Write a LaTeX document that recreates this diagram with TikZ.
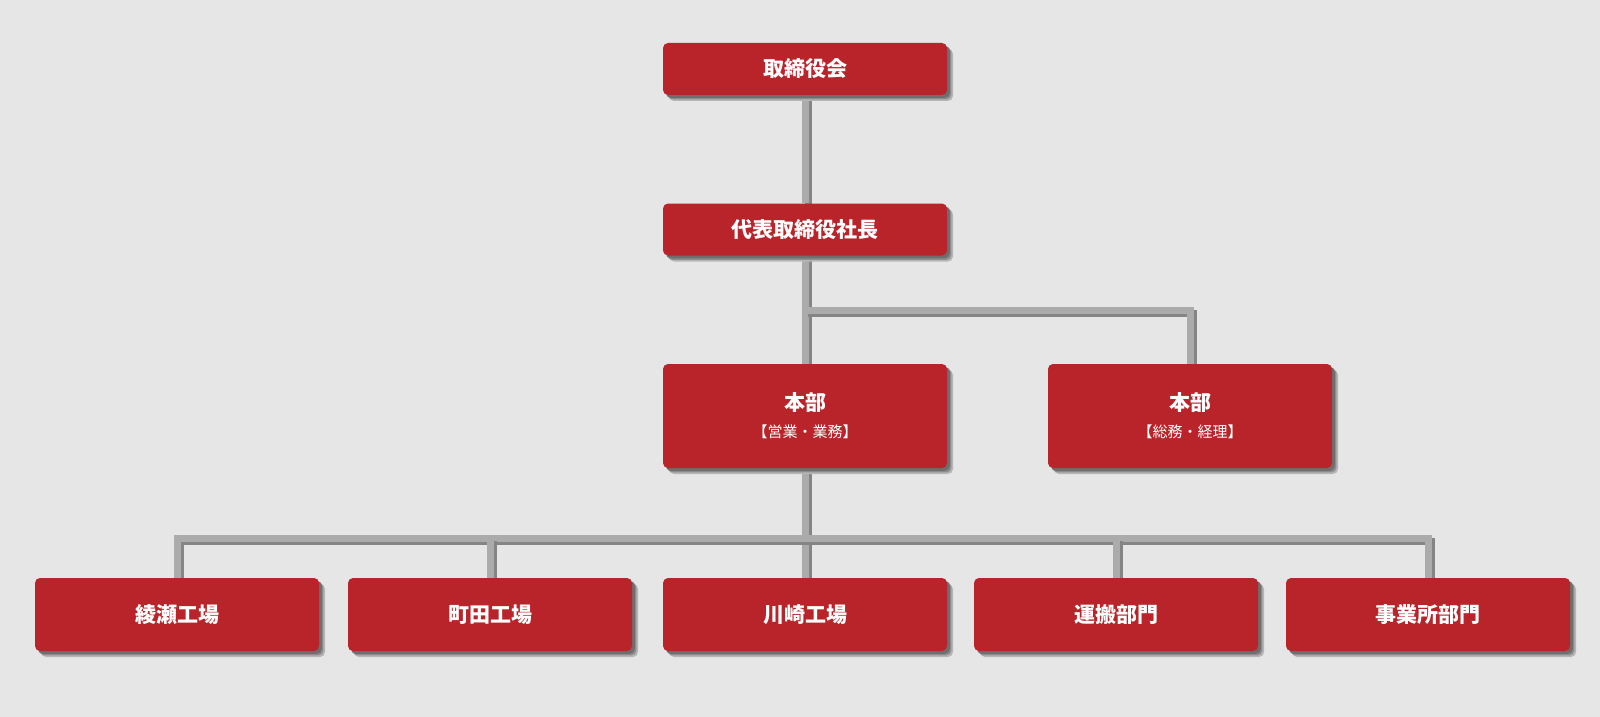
\documentclass[tikz,border=0pt]{standalone}
\usepackage{fontspec}
\usepackage{tikz}
\usetikzlibrary{positioning}
\newfontfamily\jpfont{Noto Sans CJK JP}
\definecolor{boxred}{HTML}{B8242A}
\definecolor{paper}{HTML}{E6E6E6}
\definecolor{linkgray}{HTML}{ABABAB}
\definecolor{linkshade}{HTML}{858585}
\definecolor{boxshade}{HTML}{6E6E6E}
\pgfdeclarelayer{bg}
\pgfdeclarelayer{links}
\pgfsetlayers{bg,links,main}
\tikzset{
  unit/.style={fill=boxred, text=white, rounded corners=2.5pt, inner sep=0pt,
    minimum width=142pt, minimum height=26pt, align=center,
    font=\jpfont\bfseries\fontsize{10.5}{13.5}\selectfont,
    preaction={fill=boxshade!40!paper, transform canvas={xshift=3pt, yshift=-3pt}},
    preaction={fill=boxshade!75!paper, transform canvas={xshift=2.2pt, yshift=-2.2pt}},
    preaction={fill=boxshade, transform canvas={xshift=1.4pt, yshift=-1.4pt}}},
  link/.style={draw=linkgray, line width=3.5pt,
    preaction={draw=linkshade, line width=3.5pt,
      transform canvas={xshift=1.5pt, yshift=-1.5pt}}}
}
\newcommand{\sub}[1]{{\mdseries\fontsize{7.5}{9}\selectfont #1}}
\begin{document}
\begin{tikzpicture}[x=0.5pt, y=-0.5pt]
    % Background
    \begin{pgfonlayer}{bg}
        \fill[paper] (0,0) rectangle (1600,717);
    \end{pgfonlayer}
    \useasboundingbox (0,0) rectangle (1600,717);
    % Top levels
    \node[unit] (board) at (805,69) {取締役会};
    \node[unit] (president) at (805,229.5) {代表取締役社長};
    % Head offices
    \node[unit, minimum height=52pt] (sales) at (805,416) {本部\\\sub{【営業・業務】}};
    \node[unit, minimum height=52pt] (admin) at (1190,416) {本部\\\sub{【総務・経理】}};
    % Works and divisions
    \node[unit, minimum height=36.5pt] (ayase) at (177,614.5) {綾瀬工場};
    \node[unit, minimum height=36.5pt] (machida) at (490,614.5) {町田工場};
    \node[unit, minimum height=36.5pt] (kawasaki) at (805,614.5) {川崎工場};
    \node[unit, minimum height=36.5pt] (unpan) at (1116,614.5) {運搬部門};
    \node[unit, minimum height=36.5pt] (jigyo) at (1428,614.5) {事業所部門};
    % Connectors
    \coordinate (split1) at (805,310);
    \coordinate (split2) at (805,538);
    \begin{pgfonlayer}{links}
        \draw[link] (board.south) -- (president.north);
        \draw[link] (president.south) -- (sales.north);
        \draw[link] (split1) -| (admin.north);
        \draw[link] (sales.south) -- (kawasaki.north);
        \draw[link] (ayase.north) |- (split2) -| (jigyo.north);
        \draw[link] (split2 -| machida.north) -- (machida.north);
        \draw[link] (split2 -| unpan.north) -- (unpan.north);
    \end{pgfonlayer}
\end{tikzpicture}
\end{document}
